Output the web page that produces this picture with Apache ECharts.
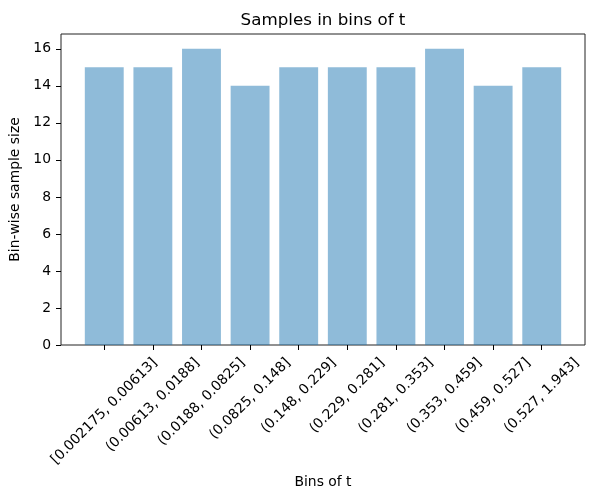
<!DOCTYPE html>
<html>
<head>
<meta charset="utf-8">
<script src="https://cdn.jsdelivr.net/npm/echarts@6/dist/echarts.min.js"></script>
<style>
  html, body { margin: 0; padding: 0; background: #fff; }
  #chart { width: 590px; height: 492px; }
</style>
</head>
<body>
<div id="chart"></div>
<script>
const binLabels = [
  "[0.002175, 0.00613]",
  "(0.00613, 0.0188]",
  "(0.0188, 0.0825]",
  "(0.0825, 0.148]",
  "(0.148, 0.229]",
  "(0.229, 0.281]",
  "(0.281, 0.353]",
  "(0.353, 0.459]",
  "(0.459, 0.527]",
  "(0.527, 1.943]",
];
const sampleSizes = [15, 15, 16, 14, 15, 15, 15, 16, 14, 15];
const yTicks = [0, 2, 4, 6, 8, 10, 12, 14, 16];

const FONT = "DejaVu Sans";
const FS = 13.9;

// plot box (matplotlib axes)
const plotLeft = 61, plotTop = 34, plotWidth = 524, plotHeight = 311;
// xlim is -0.89 .. 9.89, the category band sits inside it
const unit = plotWidth / 10.78;
const bandLeft = plotLeft + (0.89 - 0.5) * unit;

const ctx = document.createElement("canvas").getContext("2d");
function textWidth(s, size) {
  ctx.font = size + "px \"" + FONT + "\"";
  return ctx.measureText(s).width;
}

// matplotlib centres the rotated label box under the tick, top aligned
const lineH = 16;
const categoryData = binLabels.map((s) => {
  const p = (textWidth(s, FS) + lineH) / 2;
  return {
    value: s,
    textStyle: {
      align: "center",
      verticalAlign: "top",
      fontFamily: FONT,
      fontSize: FS,
      lineHeight: lineH,
      color: "#000",
      padding: [Math.max(0, p / 2 - lineH / 2), p, 0, 0],
    },
  };
});

const titleText = "Samples in bins of t";
const titleSize = 16.7;
const titleLeft = plotLeft + plotWidth / 2 - textWidth(titleText, titleSize) / 2;

const chart = echarts.init(document.getElementById("chart"));

chart.setOption({
  animation: false,
  textStyle: { fontFamily: FONT },
  title: {
    text: titleText,
    left: titleLeft,
    top: 11,
    padding: 0,
    textStyle: {
      fontFamily: FONT,
      fontSize: titleSize,
      fontWeight: "normal",
      color: "#000",
      lineHeight: 20,
    },
  },
  grid: [
    {
      left: plotLeft,
      top: plotTop,
      width: plotWidth,
      height: plotHeight,
      show: true,
      borderColor: "#222",
      borderWidth: 1,
      backgroundColor: "transparent",
      outerBoundsMode: "none",
    },
    {
      left: bandLeft,
      top: plotTop,
      width: unit * 10,
      height: plotHeight,
      outerBoundsMode: "none",
    },
  ],
  xAxis: [
    { gridIndex: 0, type: "value", show: false, min: 0, max: 1 },
    {
      gridIndex: 1,
      type: "category",
      data: categoryData,
      boundaryGap: true,
      name: "Bins of t",
      nameLocation: "middle",
      nameGap: 130,
      nameTextStyle: { fontFamily: FONT, fontSize: FS, color: "#000" },
      axisLine: { show: false },
      axisTick: {
        show: true,
        alignWithLabel: true,
        length: 5,
        lineStyle: { color: "#000", width: 1 },
      },
      axisLabel: {
        interval: 0,
        rotate: 45,
        margin: 10,
        fontFamily: FONT,
        fontSize: FS,
        color: "#000",
        hideOverlap: false,
      },
      splitLine: { show: false },
    },
  ],
  yAxis: [
    {
      gridIndex: 0,
      type: "value",
      min: 0,
      max: 16.8,
      interval: 2,
      name: "Bin-wise sample size",
      nameLocation: "middle",
      nameGap: 32,
      nameTextStyle: { fontFamily: FONT, fontSize: FS, color: "#000" },
      axisLine: { show: false },
      axisTick: {
        show: true,
        length: 5,
        customValues: yTicks,
        lineStyle: { color: "#000", width: 1 },
      },
      axisLabel: {
        customValues: yTicks,
        margin: 10,
        fontFamily: FONT,
        fontSize: FS,
        color: "#000",
      },
      splitLine: { show: false },
    },
    {
      gridIndex: 1,
      type: "value",
      min: 0,
      max: 16.8,
      show: false,
      splitLine: { show: false },
    },
  ],
  series: [
    {
      type: "bar",
      xAxisIndex: 1,
      yAxisIndex: 1,
      data: sampleSizes,
      barWidth: "80%",
      itemStyle: { color: "rgba(31,119,180,0.5)" },
      emphasis: { disabled: true },
    },
  ],
});
</script>
</body>
</html>
